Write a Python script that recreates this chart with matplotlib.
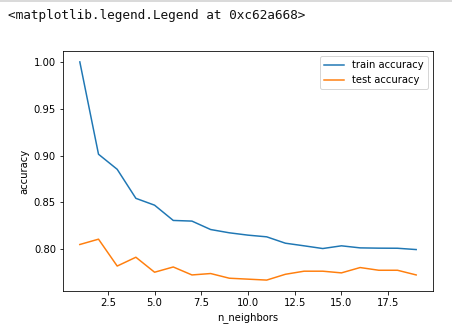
import matplotlib
matplotlib.use("Agg")
import matplotlib.pyplot as plt
from matplotlib.lines import Line2D

n_neighbors = list(range(1, 20))
train_accuracy = [1.000, 0.9014, 0.8853, 0.8543, 0.8470, 0.8307, 0.8300, 0.8210,
                  0.8175, 0.8150, 0.8132, 0.8064, 0.8036, 0.8007, 0.8036, 0.8014,
                  0.8011, 0.8010, 0.7996]
test_accuracy = [0.8050, 0.8107, 0.7820, 0.7914, 0.7754, 0.7810, 0.7725, 0.7740,
                 0.7690, 0.7680, 0.7670, 0.7732, 0.7765, 0.7765, 0.7747, 0.7804,
                 0.7775, 0.7775, 0.7725]
header_text = "<matplotlib.legend.Legend at 0xc62a668>"

DPI = 72
fig = plt.figure(figsize=(452 / DPI, 335 / DPI), dpi=DPI)
ax = fig.add_axes([63 / 452, 1 - 291 / 335, 370 / 452, 240 / 335])

ax.plot(n_neighbors, train_accuracy, label="train accuracy")
ax.plot(n_neighbors, test_accuracy, label="test accuracy")
ax.set_xlabel("n_neighbors")
ax.set_ylabel("accuracy")
ax.legend()

# notebook output line above the figure
fig.add_artist(Line2D([0, 1], [1 - 0.5 / 335, 1 - 0.5 / 335],
                      transform=fig.transFigure, color="#cfcfcf", lw=1.5))
fig.text(8 / 452, 1 - 16 / 335, header_text, family="DejaVu Sans Mono",
         fontsize=12.7, va="center", ha="left", color="#111111")

fig.savefig("out.png", dpi=DPI)
